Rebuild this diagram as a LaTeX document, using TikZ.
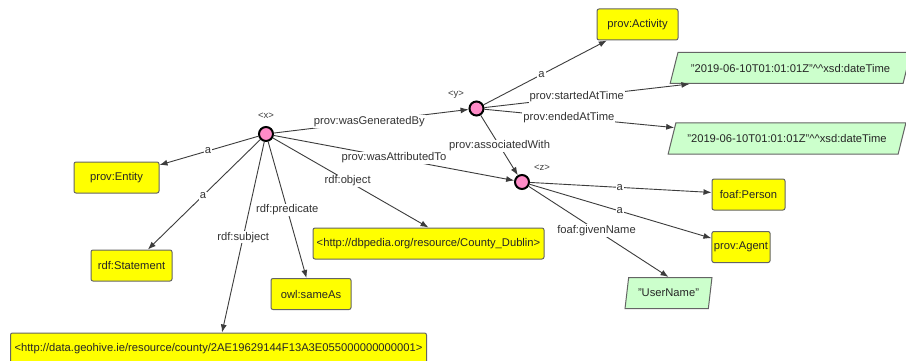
\documentclass[tikz,border=0pt]{standalone}
\usepackage{fontspec}
\setmainfont{Liberation Sans}
\usetikzlibrary{arrows.meta,shapes.geometric}
\definecolor{resfill}{RGB}{255,255,0}
\definecolor{litfill}{RGB}{204,255,204}
\definecolor{varfill}{RGB}{255,140,200}
\definecolor{edgegray}{RGB}{60,60,60}
\definecolor{framegray}{RGB}{100,100,100}
\begin{document}
\begin{tikzpicture}[x=1pt,y=-1pt,
  every node/.style={font=\fontsize{11.2}{13}\selectfont, text=black!85},
  res/.style={draw=framegray, line width=1pt, fill=resfill, rounded corners=2pt,
    minimum height=31pt, inner sep=2pt},
  lit/.style={trapezium, trapezium stretches=true, draw=framegray, line width=1pt,
    fill=litfill, minimum height=31pt, inner sep=2pt},
  var/.style={circle, draw=black, line width=2pt, fill=varfill, minimum size=14pt, inner sep=0pt},
  varname/.style={font=\fontsize{9.5}{10}\selectfont, text=black!75},
  link/.style={draw=edgegray, line width=0.9pt, -{Latex[length=8pt,width=6pt]}},
  lbl/.style={fill=white, inner sep=1pt, text=black!80}
]
\useasboundingbox[fill=white] (0,0) rectangle (906,361);

% blank nodes
\node[var] (x) at (266,134) {};
\node[var] (y) at (476.5,108.5) {};
\node[var] (z) at (522,182) {};
\node[varname] (xname) at (266,116) {<x>};
\node[varname] (yname) at (456,95) {<y>};
\node[varname] (zname) at (542,167.5) {<z>};

% resources
\node[res, minimum width=85pt] (entity) at (116.5,177.5) {prov:Entity};
\node[res, minimum width=81pt] (statement) at (131.5,265.5) {rdf:Statement};
\node[res, minimum width=80pt] (sameas) at (311,294) {owl:sameAs};
\node[res, minimum width=231pt] (county) at (428.5,243.5) {<http://dbpedia.org/resource/County\_Dublin>};
\node[res, minimum width=416pt] (subject) at (218.5,348.5) {<http://data.geohive.ie/resource/county/2AE19629144F13A3E055000000000001>};
\node[res, minimum width=81pt] (activity) at (637.5,24.5) {prov:Activity};
\node[res, minimum width=73pt] (person) at (748.5,194.5) {foaf:Person};
\node[res, minimum width=58pt] (agent) at (741,247) {prov:Agent};

% literals
\node[lit, trapezium left angle=60, trapezium right angle=120, minimum width=241pt] (d1) at (790.5,68)
  {"2019-06-10T01:01:01Z"\textasciicircum\textasciicircum xsd:dateTime};
\node[lit, trapezium left angle=60, trapezium right angle=120, minimum width=238pt] (d2) at (787,138.5)
  {"2019-06-10T01:01:01Z"\textasciicircum\textasciicircum xsd:dateTime};
\node[lit, trapezium left angle=76, trapezium right angle=104, minimum width=87pt] (user) at (668.5,293)
  {"UserName"};

% statements about <x>
\draw[link] (x) -- node[lbl, pos=.51] {a} (entity);
\draw[link] (x) -- node[lbl, pos=.51] {a} (statement);
\draw[link] (x) -- node[lbl, pos=.50] {rdf:subject} (subject);
\draw[link] (x) -- node[lbl, pos=.50] {rdf:predicate} (sameas);
\draw[link] (x) -- node[lbl, pos=.48] {rdf:object} (county.north);
\draw[link] (x) -- node[lbl, pos=.49] {prov:wasGeneratedBy} (y);
\draw[link] (x) -- node[lbl, pos=.50] {prov:wasAttributedTo} (z);

% statements about <y>
\draw[link] (y) -- node[lbl, pos=.47] {a} (activity);
\draw[link] (y) -- node[lbl, pos=.45] {prov:startedAtTime} (d1.189);
\draw[link] (y) -- node[lbl, pos=.445] {prov:endedAtTime} (d2);
\draw[link] (y) -- node[lbl, pos=.51] {prov:associatedWith} (z);

% statements about <z>
\draw[link] (z) -- node[lbl, pos=.495] {a} (person);
\draw[link] (z) -- node[lbl, pos=.495] {a} (agent);
\draw[link] (z) -- node[lbl, pos=.485] {foaf:givenName} (user.north);
\end{tikzpicture}
\end{document}
